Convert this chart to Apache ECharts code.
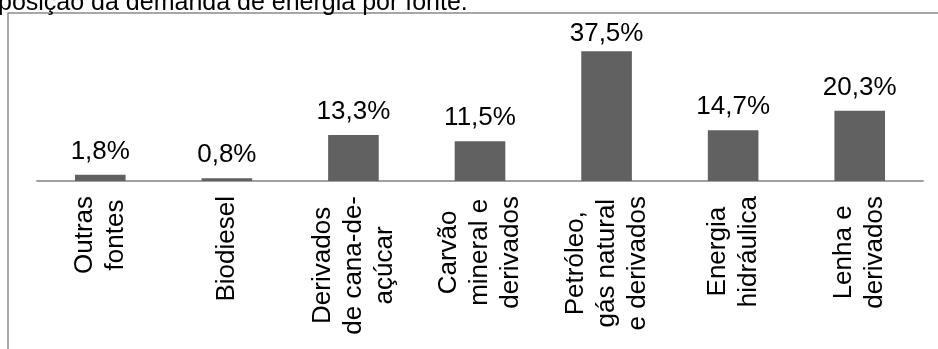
<!DOCTYPE html>
<html>
<head>
<meta charset="utf-8">
<script src="https://cdn.jsdelivr.net/npm/echarts@6/dist/echarts.min.js"></script>
<style>
html,body{margin:0;padding:0;background:#fff;}
#chart{width:938px;height:349px;}
</style>
</head>
<body>
<div id="chart"></div>
<script>
const titleText = 'posição da demanda de energia por fonte.';
const categories = [
  'Outras\nfontes',
  'Biodiesel',
  'Derivados\nde cana-de-\naçúcar',
  'Carvão\nmineral e\nderivados',
  'Petróleo,\ngás natural\ne derivados',
  'Energia\nhidráulica',
  'Lenha e\nderivados'
];
const shares = [1.8, 0.8, 13.3, 11.5, 37.5, 14.7, 20.3];

const FONT = '"Liberation Sans", Arial, Helvetica, sans-serif';
const maxShare = Math.max.apply(null, shares);
// labels sit outside the bar end; the tallest one is squeezed by the plot area top
const barData = shares.map(function (v) {
  return {value: v, label: {distance: v === maxShare ? 4 : 10}};
});

const chart = echarts.init(document.getElementById('chart'), null, {renderer: 'canvas'});
chart.setOption({
  animation: false,
  backgroundColor: '#ffffff',
  grid: {left: 37, right: 15, top: 8, bottom: 168, containLabel: false},
  graphic: [
    {
      type: 'rect',
      shape: {x: 8, y: 13, width: 960, height: 400},
      style: {fill: 'none', stroke: '#8a8a8a', lineWidth: 1.5},
      silent: true
    },
    {
      type: 'text',
      left: -2,
      top: -9,
      style: {text: titleText, fontSize: 25, fontFamily: FONT, fill: '#000'}
    }
  ],
  xAxis: {
    type: 'category',
    data: categories,
    axisLine: {show: true, lineStyle: {color: '#a0a0a0', width: 2}},
    axisTick: {show: false},
    axisLabel: {
      interval: 0,
      rotate: 90,
      margin: 15,
      color: '#000',
      fontSize: 26,
      fontFamily: FONT,
      lineHeight: 31,
      formatter: function (v) {
        return v.split('\n').map(function (l) { return '{c|' + l + '}'; }).join('\n');
      },
      rich: {
        c: {align: 'center', fontSize: 26, lineHeight: 31, fontFamily: FONT, color: '#000'}
      }
    }
  },
  yAxis: {
    type: 'value',
    min: 0,
    max: 50,
    show: false,
    splitLine: {show: false}
  },
  series: [{
    type: 'bar',
    data: barData,
    barCategoryGap: '60%',
    itemStyle: {color: '#616161'},
    label: {
      show: true,
      position: 'top',
      distance: 10,
      color: '#000',
      fontSize: 26,
      fontFamily: FONT,
      formatter: function (p) { return p.value.toFixed(1).replace('.', ',') + '%'; }
    }
  }]
});
</script>
</body>
</html>
